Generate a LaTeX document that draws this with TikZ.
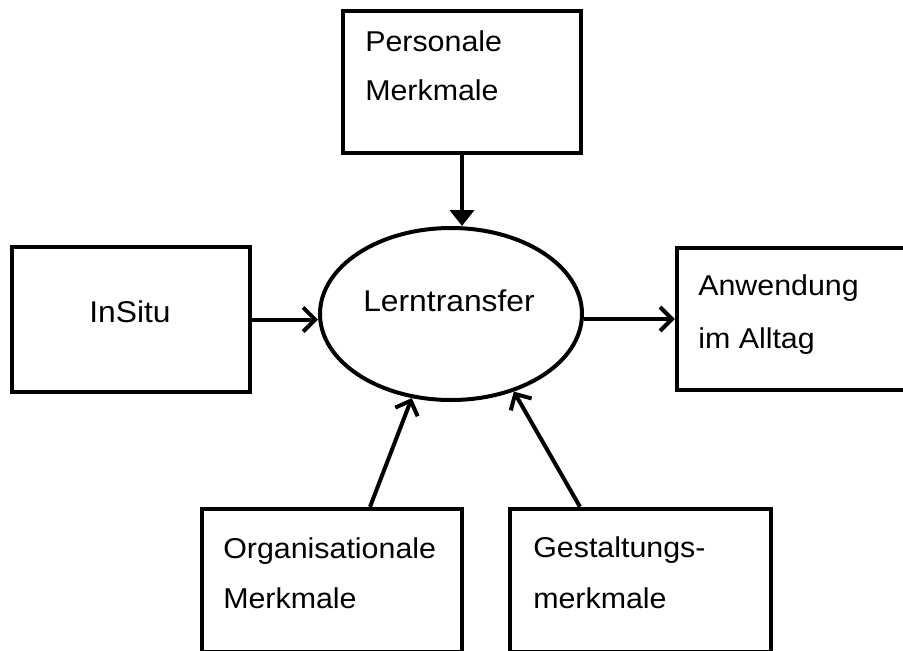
\documentclass[tikz,border=0pt]{standalone}
\usepackage{fontspec}
\setmainfont{Liberation Sans}[FakeStretch=1.06]
\usetikzlibrary{arrows.meta,shapes.geometric,fit,calc}
\begin{document}
\begin{tikzpicture}[x=0.75pt,y=-0.75pt,
  box/.style={draw, line width=3.2pt, inner sep=0pt},
  txt/.style={inner sep=0pt, font=\fontsize{21.5pt}{26pt}\selectfont},
  barb/.style={-{Straight Barb[length=9pt,width=18pt]}, line width=3pt},
  tri/.style={-{Triangle[length=12pt,width=18pt]}, line width=3pt}]
\useasboundingbox (0,0) rectangle (903,650);
\clip (0,0) rectangle (903,650);
\fill[white] (0,0) rectangle (903,650);

% boxes
\node[box, fit={(343,11) (581,153)}] (pers) {};
\node[box, fit={(12,247) (250,392)}] (insitu) {};
\node[box, fit={(677,248) (912,390)}] (anw) {};
\node[box, fit={(202,509) (462,652)}] (org) {};
\node[box, fit={(510,509) (771,652)}] (gest) {};

% central ellipse
\node[draw, ellipse, line width=3pt, inner sep=0pt,
      minimum width=196.5pt, minimum height=129pt] (lt) at (451,314) {};

% labels
\node[txt, anchor=base west] (persA) at (365,51) {Personale};
\node[txt, anchor=base west] (persB) at (365,100) {Merkmale};
\node[txt, anchor=base, font=\fontsize{22.5pt}{26pt}\selectfont] (insituT) at (130,322) {InSitu};
\node[txt, anchor=base, font=\fontsize{22.5pt}{26pt}\selectfont] (ltT) at (449,311) {Lerntransfer};
\node[txt, anchor=base west] (anwA) at (698,295) {Anwendung};
\node[txt, anchor=base west] (anwB) at (698,348) {im Alltag};
\node[txt, anchor=base west] (orgA) at (223,558) {Organisationale};
\node[txt, anchor=base west] (orgB) at (223,608) {Merkmale};
\node[txt, anchor=base west] (gestA) at (533,557) {Gestaltungs-};
\node[txt, anchor=base west] (gestB) at (533,608) {merkmale};

% connectors
\draw[tri] (pers.south) -- (pers.south |- lt.north);
\draw[barb] (insitu.east) -- (insitu.east -| lt.west);
\draw[barb] (lt.east |- anw.west) -- (anw.west);
\draw[barb] ($(org.north)+(38,0)$) -- (lt.-115);
\draw[barb] ($(gest.north)+(-60.5,0)$) -- (lt.-51.5);
\end{tikzpicture}
\end{document}
